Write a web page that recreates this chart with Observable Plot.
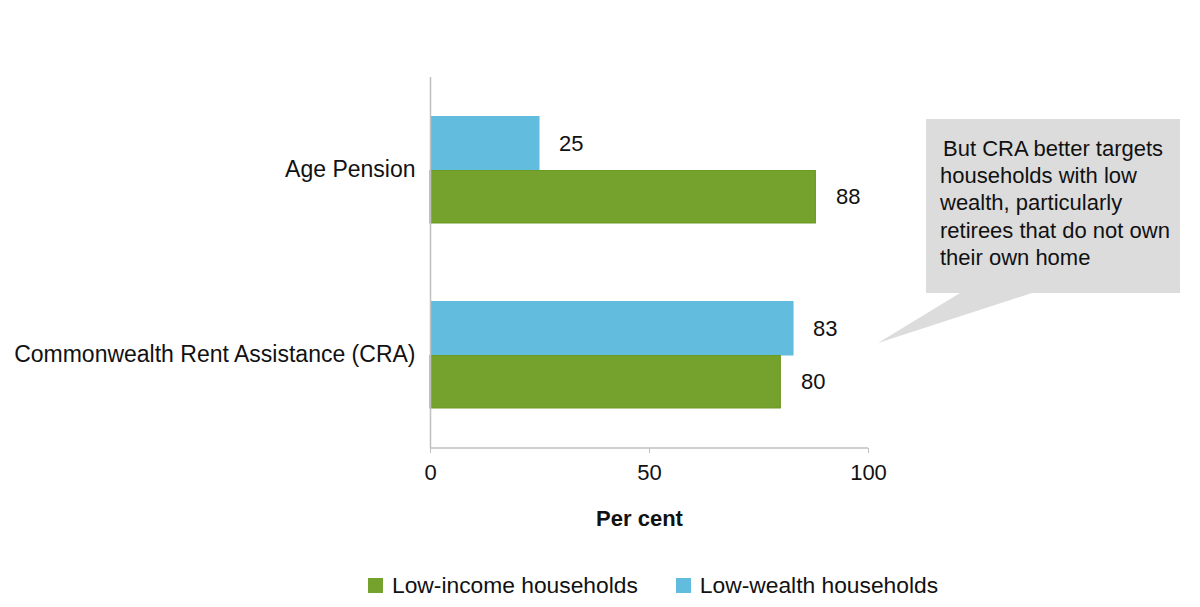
<!DOCTYPE html>
<html>
<head>
<meta charset="utf-8">
<script src="https://cdn.jsdelivr.net/npm/d3@7"></script>
<script src="https://cdn.jsdelivr.net/npm/@observablehq/plot@0.6"></script>
<style>
  body { margin: 0; background: #fff; font-family: "Liberation Sans", Arial, sans-serif; }
  #wrap { position: relative; width: 1200px; height: 607px; }
  #legend { position: absolute; left: 368px; top: 572px; display: flex; align-items: center; font-size: 22.8px; color: #111; }
  .item { display: flex; align-items: center; margin-right: 38px; }
  .sw { width: 15px; height: 15px; margin-right: 9px; }
</style>
</head>
<body>
<div id="wrap"></div>
<script>
const categories = ["Age Pension", "Commonwealth Rent Assistance (CRA)"];
const series = ["Low-income households", "Low-wealth households"];
const lowIncome = [88, 80];
const lowWealth = [25, 83];
const colors = ["#74a22c", "#62bcdd"];
const xTicks = [0, 50, 100];
const calloutLines = ["But CRA better targets", "households with low", "wealth, particularly", "retirees that do not own", "their own home"];

const incomeData = categories.map((c, i) => ({category: c, value: lowIncome[i]}));
const wealthData = categories.map((c, i) => ({category: c, value: lowWealth[i]}));

const W = 1200, H = 560, mT = 77, mB = 112, mL = 430, mR = 332;

const plot = Plot.plot({
  width: W,
  height: H,
  marginTop: mT,
  marginBottom: mB,
  marginLeft: mL,
  marginRight: mR,
  style: {fontFamily: "Liberation Sans, Arial, sans-serif", fontSize: "22px", color: "#111", background: "white"},
  x: {domain: [0, 100], ticks: xTicks, tickSize: 5, tickPadding: 11, label: null},
  y: {domain: categories, paddingInner: 0.42, paddingOuter: 0.21, label: null, tickSize: 0, tickPadding: 15},
  marks: [
    Plot.barX(wealthData, {x: "value", y: "category", fill: colors[1], insetBottom: 52.5}),
    Plot.barX(incomeData, {x: "value", y: "category", fill: colors[0], stroke: "#6a9a22", strokeWidth: 1, insetTop: 54.5}),
    Plot.text(wealthData, {x: "value", y: "category", text: d => String(d.value), dy: -26.5, dx: 19, textAnchor: "start", fontSize: 22, fill: "#111"}),
    Plot.text(incomeData, {x: "value", y: "category", text: d => String(d.value), dy: 27, dx: 20, textAnchor: "start", fontSize: 22, fill: "#111"}),
    Plot.ruleX([0], {stroke: "#bfbfbf", strokeWidth: 1.5}),
    Plot.text(["Per cent"], {frameAnchor: "bottom", text: d => d, dy: 77, dx: -10, fontWeight: "bold", fontSize: 22, fill: "#111"})
  ]
});

const svg = d3.select(plot);
svg.selectAll('[aria-label="y-axis tick label"]').attr("font-size", 23);
svg.selectAll('[aria-label="x-axis tick"]').attr("stroke", "#bfbfbf");
const xs = plot.scale("x");
svg.append("line")
  .attr("x1", xs.apply(0)).attr("x2", xs.apply(100))
  .attr("y1", H - mB).attr("y2", H - mB)
  .attr("stroke", "#bfbfbf").attr("stroke-width", 1.5);

// callout annotation
const g = svg.append("g").attr("text-anchor", "start");
g.append("path")
  .attr("d", "M926,119 H1180 V293 H1032 L878,343 L960,293 H926 Z")
  .attr("fill", "#dcdcdc");
g.selectAll("text").data(calloutLines).join("text")
  .attr("x", (d, i) => i === 0 ? 943 : 940)
  .attr("y", (d, i) => 156 + i * 27.2)
  .attr("font-size", 22)
  .attr("fill", "#111")
  .attr("font-family", "Liberation Sans, Arial, sans-serif")
  .text(d => d);

const wrap = document.getElementById("wrap");
wrap.appendChild(plot);

const legend = document.createElement("div");
legend.id = "legend";
series.forEach((s, i) => {
  const item = document.createElement("div");
  item.className = "item";
  const sw = document.createElement("div");
  sw.className = "sw";
  sw.style.background = colors[i];
  const t = document.createElement("span");
  t.textContent = s;
  item.appendChild(sw);
  item.appendChild(t);
  legend.appendChild(item);
});
wrap.appendChild(legend);
</script>
</body>
</html>
